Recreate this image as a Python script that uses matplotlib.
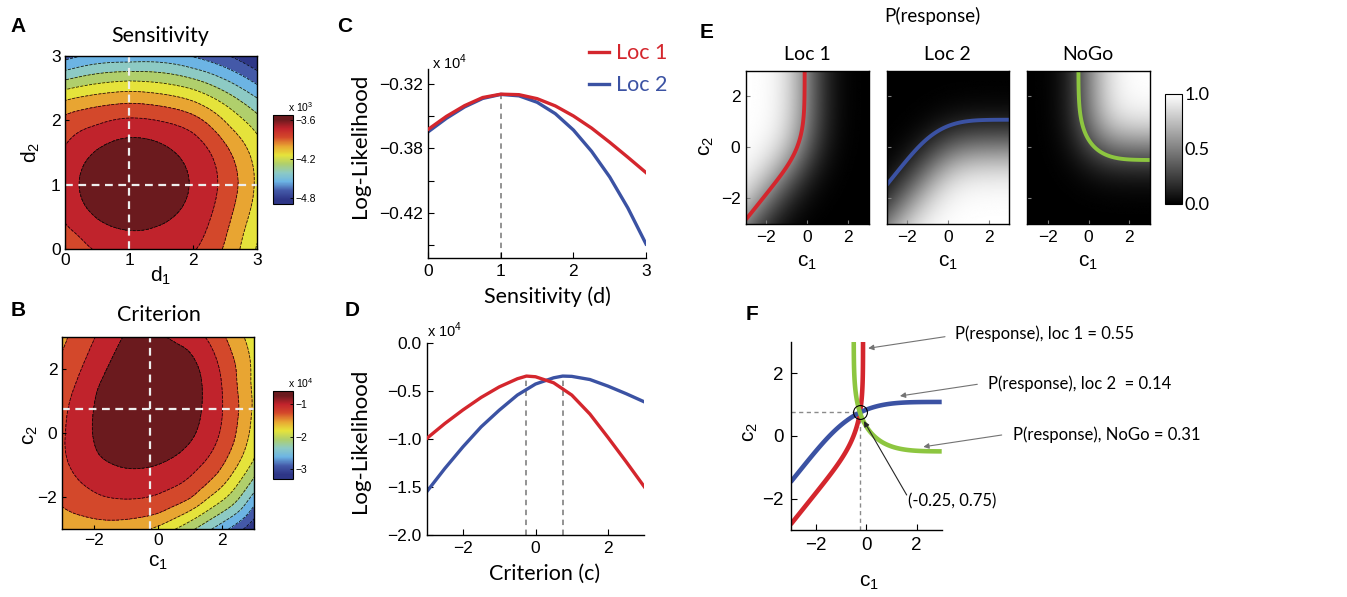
import math
import numpy as np
import matplotlib
matplotlib.use("Agg")
import matplotlib.pyplot as plt
from matplotlib.colors import LinearSegmentedColormap, Normalize
from matplotlib.cm import ScalarMappable

plt.rcParams['font.family'] = ['Liberation Sans', 'DejaVu Sans']
plt.rcParams['mathtext.fontset'] = 'custom'
plt.rcParams['mathtext.rm'] = 'Liberation Sans'
plt.rcParams['axes.linewidth'] = 1.0

LBL = ['Lato', 'Liberation Sans', 'DejaVu Sans']
W, H = 1347, 597

# ---------------- data ----------------
d_true = [1.0, 1.0]
c_true = [-0.25, 0.75]

# C: log-likelihood (x10^4, tick units) vs sensitivity
sens_d = [0, 0.25, 0.5, 0.75, 1.0, 1.25, 1.5, 1.75, 2.0, 2.25, 2.5, 2.75, 3.0]
ll_sens_loc1 = [-0.3551, -0.3451, -0.3368, -0.3305, -0.3279, -0.3283, -0.3314,
                -0.3370, -0.3448, -0.3542, -0.3652, -0.3768, -0.3887]
ll_sens_loc2 = [-0.3570, -0.3466, -0.3378, -0.3312, -0.3281, -0.3292, -0.3342,
                -0.3430, -0.3557, -0.3722, -0.3921, -0.4161, -0.4440]
sens_yticks = [-0.32, -0.345, -0.37, -0.395, -0.42, -0.445]
sens_yticklabels = ['\u22120.32', '', '\u22120.38', '', '\u22120.42', '']

# D: log-likelihood (x10^4) vs criterion
crit_c_loc1 = [-3, -2.5, -2, -1.5, -1, -0.5, -0.25, 0, 0.5, 1, 1.5, 2, 2.5, 3]
ll_crit_loc1 = [-0.993, -0.837, -0.695, -0.565, -0.455, -0.370, -0.342, -0.349,
                -0.412, -0.540, -0.738, -0.983, -1.236, -1.497]
crit_c_loc2 = [-3, -2.5, -2, -1.5, -1, -0.5, 0, 0.5, 0.75, 1, 1.5, 2, 2.5, 3]
ll_crit_loc2 = [-1.549, -1.306, -1.080, -0.872, -0.698, -0.540, -0.425, -0.360,
                -0.342, -0.345, -0.378, -0.447, -0.526, -0.611]

# A: contour readings (d1, d2, band index below the maximum)
A_d1 = [1.05,
        0.22, 1.94, 1.0, 1.0, 0.47, 1.69, 0.47, 1.69,
        1.41, 0.75, 1.875, 0.285, 1.875, 0.285, 1.41, 0.75,
        2.38, 1.0, 0, 0, 0.29, 2.11, 2.3, 2.0, 0.5, 1.5,
        2.76, 1.0, 0, 0, 0.05, 2.48, 2.4, 2.0, 0.5, 1.5,
        2.92, 1.0, 0, 2.76, 2.55, 2.0,
        1.0, 0, 2.95, 3, 3, 2.5, 2.0,
        1.0, 0, 3, 2.0, 2.6,
        1.0, 0, 3, 2.0,
        0.18, 1.96, 0, 3, 2.5,
        2.63, 3,
        1.0, 3, 0, 0, 3]
A_d2 = [1.0,
        1.01, 1.01, 1.73, 0.29, 1.52, 1.52, 0.5, 0.5,
        1.675, 1.675, 1.29, 1.29, 0.73, 0.73, 0.345, 0.345,
        1.0, 2.04, 1.51, 0.26, 0, 0, 1.5, 1.85, 1.86, 1.98,
        1.0, 2.27, 2.16, 0.05, 0, 0, 1.8, 2.1, 2.23, 2.22,
        1.0, 2.46, 2.32, 0, 1.85, 2.3,
        2.63, 2.48, 0, 0.16, 1.83, 2.25, 2.5,
        2.76, 2.63, 2.11, 2.65, 2.4,
        2.87, 2.76, 2.37, 2.78,
        3, 3, 2.9, 2.53, 2.8,
        3, 2.76,
        3, 3, 3, 0, 0]
A_k = [0,
       1, 1, 1, 1, 1, 1, 1, 1,
       1, 1, 1, 1, 1, 1, 1, 1,
       2, 2, 2, 2, 2, 2, 2, 2, 2, 2,
       3, 3, 3, 3, 3, 3, 3, 3, 3, 3,
       4, 4, 4, 4, 4, 4,
       5, 5, 5, 5, 5, 5, 5,
       6, 6, 6, 6, 6,
       7, 7, 7, 7,
       8, 8, 8, 8, 8,
       9, 9,
       7.6, 10, 8.4, 3.4, 5.2]
A_top, A_bot = -3.52, -4.89          # x10^3

# B: contour readings (c1, c2, band index below the maximum)
B_c1 = [-0.25, -0.43, -1.5, 0.85,
        -1.08, 0.22, -1.55, -1.88, -2.04, -1.86, -1.34, -0.51, 0.32, 1.05, 1.36, 1.31, 0.84,
        -1.96, -2.53, -2.84, -2.48, -1.75, -0.61, 0.32, 1.26, 1.88, 2.0, 1.88, 1.52,
        -2.84, -3, -3, -2.27, -1.23, 0.01, 1.05, 1.88, 2.4, 2.56, 2.45, 2.09,
        2.59, 2.84, 2.87, 2.71, 2.3, 1.57, 0.74, -0.3,
        0.47, 3, 2.25, 1.4,
        1.12, 3, 2.45,
        1.64, 3, 2.62,
        2.15, 3, 2.77,
        2.65, 3, 2.9,
        -3, 3, -3, 3, -3]
B_c2 = [0.75, 3.0, 3.0, 3.0,
        3, 3, 2.07, 1.34, 0.09, -0.63, -1.0, -1.1, -0.84, -0.22, 0.82, 1.86, 2.64,
        3, 1.55, 0.09, -1.47, -1.98, -2.04, -1.72, -1.05, -0.12, 0.82, 2.07, 3,
        3, 2.48, -2.19, -2.56, -2.71, -2.56, -2.09, -1.26, -0.22, 0.82, 2.07, 3,
        3, 1.55, 0.51, -0.43, -1.26, -1.98, -2.56, -3,
        -3, -0.84, -1.9, -2.5,
        -3, -1.36, -2.15,
        -3, -1.83, -2.38,
        -3, -2.19, -2.6,
        -3, -2.61, -2.8,
        3, 3, -3, -3, 0.1]
B_k = [0, 0.8, 1.5, 1.5,
       1, 1, 1, 1, 1, 1, 1, 1, 1, 1, 1, 1, 1,
       2, 2, 2, 2, 2, 2, 2, 2, 2, 2, 2, 2,
       3, 3, 3, 3, 3, 3, 3, 3, 3, 3, 3, 3,
       4, 4, 4, 4, 4, 4, 4, 4,
       5, 5, 5, 5,
       6, 6, 6,
       7, 7, 7,
       8, 8, 8,
       9, 9, 9,
       3.3, 4.4, 3.4, 10, 2.15]
B_top, B_bot = -0.59, -3.31          # x10^4

# F: response probabilities on catch trials at the fitted criteria
p_loc1, p_loc2, p_nogo = 0.55, 0.14, 0.31

red, blue, green = '#D4262D', '#3B52A3', '#8DC640'
band_colors = ['#2E3687', '#4459A8', '#6CB4E4', '#8DCAC4', '#AFCF6C',
               '#E6E33B', '#E8A632', '#D4492B', '#C1232C', '#6B1A1E']
jetm = LinearSegmentedColormap.from_list(
    'jetm', [(0, band_colors[0])] + [((i + 0.5) / 10, c) for i, c in enumerate(band_colors)]
    + [(1, band_colors[-1])])


def px_rect(l, t, r, b):
    return [l / W, 1 - b / H, (r - l) / W, (b - t) / H]


def put(x, y, s, **kw):
    kw.setdefault('ha', 'center')
    kw.setdefault('va', 'center')
    fig.text(x / W, 1 - y / H, s, **kw)


def tps_field(px, py, pz, gx, gy, smooth):
    # smoothing thin-plate spline through the read contour points
    px, py, pz = (np.asarray(a, float) for a in (px, py, pz))
    P = np.column_stack([px, py])
    n = len(px)

    def kern(r):
        return np.where(r > 0, r ** 2 * np.log(np.maximum(r, 1e-12)), 0.0)

    K = kern(np.sqrt(((P[:, None, :] - P[None, :, :]) ** 2).sum(-1))) + np.diag(smooth)
    Q = np.column_stack([np.ones(n), px, py])
    M = np.block([[K, Q], [Q.T, np.zeros((3, 3))]])
    sol = np.linalg.solve(M, np.concatenate([pz, np.zeros(3)]))
    GX, GY = np.meshgrid(gx, gy)
    G = np.column_stack([GX.ravel(), GY.ravel()])
    Kg = kern(np.sqrt(((G[:, None, :] - P[None, :, :]) ** 2).sum(-1)))
    Z = Kg @ sol[:n] + sol[n] + sol[n + 1] * G[:, 0] + sol[n + 2] * G[:, 1]
    return GX, GY, Z.reshape(GX.shape)


# normal cdf and 2-ADC response probabilities on catch trials
_t = np.linspace(-12, 12, 24001)
_cdf = np.array([0.5 * (1 + math.erf(v / math.sqrt(2))) for v in _t])


def Phi(x):
    return np.interp(x, _t, _cdf)


cg = np.linspace(-3, 3, 241)
s = np.linspace(0, 10, 2001)
wts = np.full(s.size, s[1] - s[0])
wts[[0, -1]] *= 0.5
phi_m = np.exp(-0.5 * (cg[None, :] + s[:, None]) ** 2) / math.sqrt(2 * math.pi)
Phi_m = Phi(s[:, None] + cg[None, :])
P_loc1 = (Phi_m * wts[:, None]).T @ phi_m        # rows c2, cols c1
P_loc2 = P_loc1.T
P_nogo = np.outer(Phi(cg), Phi(cg))

fig = plt.figure(figsize=(W / 100, H / 100), dpi=100)
dash = (0, (3.5, 2.5))

# ---------------- A ----------------
axA = fig.add_axes(px_rect(65, 56, 257, 249))
gd = np.linspace(0, 3, 151)
smA = np.where(np.asarray(A_k) <= 1, 0.01, 0.25)
GX, GY, ZA = tps_field(A_d1, A_d2, A_k, gd, gd, smA)
stepA = (A_top - A_bot) / 10
fieldA = A_top - stepA * np.clip(ZA, 0, 10)
levA = np.linspace(A_bot, A_top, 11)
axA.contourf(GX, GY, fieldA, levels=levA, cmap=jetm, vmin=A_bot, vmax=A_top)
axA.contour(GX, GY, fieldA, levels=levA[1:-1], colors='k', linewidths=0.6, alpha=0.85)
axA.axvline(d_true[0], color='#eeeeee', ls=dash, lw=1.6)
axA.axhline(d_true[1], color='#eeeeee', ls=dash, lw=1.6)
axA.set_xlim(0, 3)
axA.set_ylim(0, 3)
axA.set_xticks([0, 1, 2, 3])
axA.set_yticks([0, 1, 2, 3])
axA.tick_params(direction='in', length=3, labelsize=12.5, pad=3)
caxA = fig.add_axes(px_rect(272.7, 115, 292.7, 204))
cbA = fig.colorbar(ScalarMappable(Normalize(A_bot, A_top), jetm), cax=caxA, ticks=[-3.6, -4.2, -4.8])
cbA.ax.tick_params(labelsize=7.5, length=2, width=0.6, direction='in', pad=2)
cbA.outline.set_linewidth(0.8)
put(288, 107, 'x 10$^{3}$', fontsize=7.5, ha='left')
put(18, 27, 'A', fontsize=15, fontweight='bold')
put(160, 36, 'Sensitivity', fontsize=15.5, family=LBL)
put(161, 276, r'$\mathregular{d_1}$', fontsize=15)
put(31, 152, r'$\mathregular{d_2}$', fontsize=15, rotation=90)

# ---------------- B ----------------
axB = fig.add_axes(px_rect(61.5, 336.5, 254.5, 529.3))
gc = np.linspace(-3, 3, 151)
smB = np.where(np.asarray(B_k) <= 1.5, 0.01, 0.4)
GX, GY, ZB = tps_field(B_c1, B_c2, B_k, gc, gc, smB)
stepB = (B_top - B_bot) / 10
fieldB = B_top - stepB * np.clip(ZB, 0, 10)
levB = np.linspace(B_bot, B_top, 11)
axB.contourf(GX, GY, fieldB, levels=levB, cmap=jetm, vmin=B_bot, vmax=B_top)
axB.contour(GX, GY, fieldB, levels=levB[1:-1], colors='k', linewidths=0.6, alpha=0.85)
axB.axvline(c_true[0], color='#eeeeee', ls=dash, lw=1.6)
axB.axhline(c_true[1], color='#eeeeee', ls=dash, lw=1.6)
axB.set_xlim(-3, 3)
axB.set_ylim(-3, 3)
axB.set_xticks([-2, 0, 2])
axB.set_yticks([-2, 0, 2])
axB.tick_params(direction='in', length=3, labelsize=12.5, pad=3)
caxB = fig.add_axes(px_rect(272.7, 391, 292.7, 479))
cbB = fig.colorbar(ScalarMappable(Normalize(B_bot, B_top), jetm), cax=caxB, ticks=[-1, -2, -3])
cbB.ax.set_yticklabels(['\u22121', '\u22122', '\u22123'])
cbB.ax.tick_params(labelsize=7.5, length=2, width=0.6, direction='in', pad=2)
cbB.outline.set_linewidth(0.8)
put(288, 383, 'x 10$^{4}$', fontsize=7.5, ha='left')
put(18, 310, 'B', fontsize=15, fontweight='bold')
put(159, 315, 'Criterion', fontsize=15.5, family=LBL)
put(158, 563, r'$\mathregular{c_1}$', fontsize=15)
put(30, 435, r'$\mathregular{c_2}$', fontsize=15, rotation=90)

# ---------------- C ----------------
axC = fig.add_axes(px_rect(428.3, 69, 646, 258.3))
lc1, = axC.plot(sens_d, ll_sens_loc1, color=red, lw=2.4, label='Loc 1', zorder=3,
                solid_joinstyle='round')
lc2, = axC.plot(sens_d, ll_sens_loc2, color=blue, lw=2.4, label='Loc 2', zorder=2,
                solid_joinstyle='round')
yC0 = -0.4551
axC.plot([d_true[0], d_true[0]], [yC0, max(ll_sens_loc1)], color='#8a8a8a',
         ls=(0, (3, 2.5)), lw=1.3, zorder=1)
axC.set_xlim(0, 3)
axC.set_ylim(yC0, -0.3084)
axC.set_xticks([0, 1, 2, 3])
axC.set_yticks(sens_yticks)
axC.set_yticklabels(sens_yticklabels)
for sp in ('top', 'right'):
    axC.spines[sp].set_visible(False)
axC.tick_params(direction='in', length=4, labelsize=12.5, pad=4)
fig.legend(handles=[lc1, lc2], loc='upper left', bbox_to_anchor=(570 / W, 1 - 24 / H),
           frameon=False, handlelength=0.9, handletextpad=0.35,
           labelspacing=0.55, labelcolor='linecolor', prop={'family': LBL, 'size': 15.5})
put(432, 62, 'x 10$^{4}$', fontsize=10.5, ha='left')
put(345, 27, 'C', fontsize=15, fontweight='bold')
put(360, 146, 'Log-Likelihood', fontsize=16, rotation=90, family=LBL)
put(547, 297, 'Sensitivity (d)', fontsize=15.5, family=LBL)

# ---------------- D ----------------
axD = fig.add_axes(px_rect(426.7, 343.3, 644.3, 535))
axD.plot(crit_c_loc1, ll_crit_loc1, color=red, lw=2.4, zorder=3, solid_joinstyle='round')
axD.plot(crit_c_loc2, ll_crit_loc2, color=blue, lw=2.4, zorder=2, solid_joinstyle='round')
axD.plot([c_true[0], c_true[0]], [-2, max(ll_crit_loc1)], color='#8a8a8a', ls=(0, (3, 2.5)), lw=1.3, zorder=1)
axD.plot([c_true[1], c_true[1]], [-2, max(ll_crit_loc2)], color='#8a8a8a', ls=(0, (3, 2.5)), lw=1.3, zorder=1)
axD.set_xlim(-3, 3)
axD.set_ylim(-2, 0)
axD.set_xticks([-2, 0, 2])
axD.set_yticks([0, -0.5, -1, -1.5, -2])
axD.set_yticklabels(['0.0', '\u22120.5', '\u22121.0', '\u22121.5', '\u22122.0'])
for sp in ('top', 'right'):
    axD.spines[sp].set_visible(False)
axD.tick_params(direction='in', length=4, labelsize=12.5, pad=4)
put(427, 330, 'x 10$^{4}$', fontsize=10.5, ha='left')
put(352, 310, 'D', fontsize=15, fontweight='bold')
put(360, 441, 'Log-Likelihood', fontsize=16, rotation=90, family=LBL)
put(545, 574, 'Criterion (c)', fontsize=15.5, family=LBL)

# ---------------- E ----------------
e_fields = [P_loc1, P_loc2, P_nogo]
e_levels = [p_loc1, p_loc2, p_nogo]
e_colors = [red, blue, green]
e_titles = ['Loc 1', 'Loc 2', 'NoGo']
e_lefts = [746, 886.7, 1027.3]
for k in range(3):
    ax = fig.add_axes(px_rect(e_lefts[k], 70.7, e_lefts[k] + 122.5, 224))
    ax.imshow(e_fields[k], origin='lower', extent=[-3, 3, -3, 3], cmap='gray',
              vmin=0, vmax=1, aspect='auto', interpolation='bilinear')
    ax.contour(cg, cg, e_fields[k], levels=[e_levels[k]], colors=[e_colors[k]], linewidths=2.8)
    ax.set_xlim(-3, 3)
    ax.set_ylim(-3, 3)
    ax.set_xticks([-2, 0, 2])
    ax.set_yticks([-2, 0, 2])
    ax.tick_params(direction='in', length=3, labelsize=12.5, pad=4, color='0.5')
    if k > 0:
        ax.set_yticklabels([])
    put(e_lefts[k] + 61, 55, e_titles[k], fontsize=14, family=LBL)
    put(e_lefts[k] + 61, 262, r'$\mathregular{c_1}$', fontsize=15)
caxE = fig.add_axes(px_rect(1165, 94, 1181.7, 204))
cbE = fig.colorbar(ScalarMappable(Normalize(0, 1), 'gray'), cax=caxE, ticks=[0, 0.5, 1])
cbE.ax.set_yticklabels(['0.0', '0.5', '1.0'], family=LBL)
cbE.ax.tick_params(labelsize=13, length=0, pad=2)
cbE.outline.set_linewidth(0.8)
put(707, 33, 'E', fontsize=15, fontweight='bold')
put(932, 16, 'P(response)', fontsize=13.5, family=LBL)
put(707, 146, r'$\mathregular{c_2}$', fontsize=15, rotation=90)

# ---------------- F ----------------
axF = fig.add_axes(px_rect(790.7, 341.7, 941.7, 530))
axF.plot([-3, c_true[0]], [c_true[1], c_true[1]], color='#8a8a8a', ls=(0, (3, 2.5)), lw=1.0)
axF.plot([c_true[0], c_true[0]], [-3, c_true[1]], color='#8a8a8a', ls=(0, (3, 2.5)), lw=1.0)
axF.contour(cg, cg, P_loc1, levels=[p_loc1], colors=[red], linewidths=3.3)
axF.contour(cg, cg, P_loc2, levels=[p_loc2], colors=[blue], linewidths=3.3)
axF.contour(cg, cg, P_nogo, levels=[p_nogo], colors=[green], linewidths=3.3)
axF.plot(c_true[0], c_true[1], 'o', ms=10, mfc='none', mec='k', mew=0.8)
axF.set_xlim(-3, 3)
axF.set_ylim(-3, 3)
axF.set_xticks([-2, 0, 2])
axF.set_yticks([-2, 0, 2])
for sp in ('top', 'right'):
    axF.spines[sp].set_visible(False)
axF.tick_params(direction='in', length=4, labelsize=13.5, pad=5)

notes = ['P(response), loc 1 = %.2f' % p_loc1,
         'P(response), loc 2  = %.2f' % p_loc2,
         'P(response), NoGo = %.2f' % p_nogo,
         '(%.2f, %.2f)' % (c_true[0], c_true[1])]
note_xy = [(955, 334), (988, 384), (1013, 435), (908, 501)]
tails = [(945, 336.7), (977.3, 384.3), (1001.7, 435), (906.7, 495)]
heads = [(0.08, 2.79), (1.34, 1.27), (2.27, -0.35), (-0.09, 0.47)]
arrow_cols = ['0.45', '0.45', '0.45', '0.15']
for txt, (tx, ty), (ax0, ay0), hd, col in zip(notes, note_xy, tails, heads, arrow_cols):
    axF.annotate('', xy=hd, xycoords='data', xytext=(ax0 / W, 1 - ay0 / H),
                 textcoords='figure fraction', annotation_clip=False,
                 arrowprops=dict(arrowstyle='-|>', color=col, lw=0.8,
                                 mutation_scale=8, shrinkA=0, shrinkB=0))
    put(tx, ty, txt, fontsize=12, ha='left', family=LBL)
put(752, 315, 'F', fontsize=15, fontweight='bold')
put(750, 432, r'$\mathregular{c_2}$', fontsize=15, rotation=90)
put(869, 582, r'$\mathregular{c_1}$', fontsize=15)

fig.savefig('out.png', dpi=100)
